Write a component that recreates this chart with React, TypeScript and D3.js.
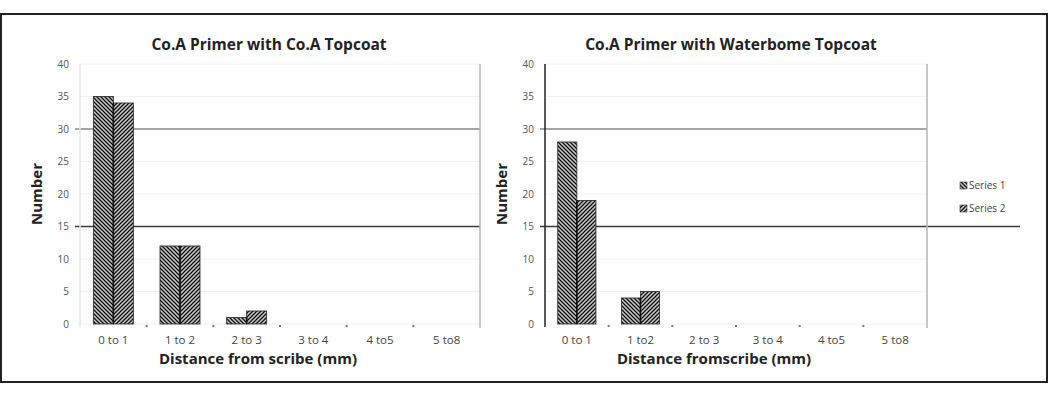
import * as d3 from "d3";

const categories = ["0 to 1", "1 to 2", "2 to 3", "3 to 4", "4 to5", "5 to8"];
const rightCategories = ["0 to 1", "1 to2", "2 to 3", "3 to 4", "4 to5", "5 to8"];
const leftSeries1 = [35, 12, 1, 0, 0, 0];
const leftSeries2 = [34, 12, 2, 0, 0, 0];
const rightSeries1 = [28, 4, 0, 0, 0, 0];
const rightSeries2 = [19, 5, 0, 0, 0, 0];
const yTicks = [0, 5, 10, 15, 20, 25, 30, 35, 40];
const legendLabels = ["Series 1", "Series 2"];

const font = "'Open Sans', Lato, sans-serif";

type PanelProps = {
  title: string;
  xTitle: string;
  labels: string[];
  s1: number[];
  s2: number[];
  x0: number;
  x1: number;
  axisColor: string;
  line15End: number;
  titleShift: number;
};

const Panel = ({ title, xTitle, labels, s1, s2, x0, x1, axisColor, line15End, titleShift }: PanelProps) => {
  const top = 64;
  const bottom = 324;
  const y = d3.scaleLinear().domain([0, 40]).range([bottom, top]);
  const x = d3
    .scaleBand<string>()
    .domain(labels)
    .range([x0, x1])
    .paddingInner(0.4)
    .paddingOuter(0.2);
  const bw = x.bandwidth() / 2;
  const cx = (x0 + x1) / 2;

  return (
    <g>
      <text x={cx + titleShift} y={50} textAnchor="middle" fontFamily={font} fontWeight="bold" fontSize={15.5} fill="#222">
        {title}
      </text>
      {/* faint grid */}
      {yTicks.map((t) => (
        <line key={"g" + t} x1={x0} x2={x1} y1={y(t)} y2={y(t)} stroke="#f2f2f2" strokeWidth={1} />
      ))}
      <line x1={x0 - 5} x2={x1} y1={y(30)} y2={y(30)} stroke="#8a8a8a" strokeWidth={1.6} />
      <line x1={x0 - 5} x2={line15End} y1={y(15)} y2={y(15)} stroke="#3a3a3a" strokeWidth={1.6} />
      {/* axes */}
      <line x1={x0} x2={x0} y1={top} y2={bottom + 3} stroke={axisColor} strokeWidth={1.5} />
      <line x1={x1} x2={x1} y1={top} y2={bottom + 4} stroke="#b5b5b5" strokeWidth={1.5} />
      {yTicks.map((t) => (
        <text key={"t" + t} x={x0 - 11} y={y(t) + 3.5} textAnchor="end" fontFamily={font} fontSize={10} fill="#555">
          {t}
        </text>
      ))}
      {labels.map((l, i) => (
        <g key={l}>
          {i > 0 && (
            <rect x={(x(l) ?? 0) - x.step() * 0.2 - 1} y={bottom + 1} width={2} height={2} fill="#777" />
          )}
          <text
            x={(x(l) ?? 0) + x.bandwidth() / 2}
            y={bottom + 20}
            textAnchor="middle"
            fontFamily={font}
            fontSize={11.5}
            fill="#444"
          >
            {l}
          </text>
        </g>
      ))}
      {s1.map((v, i) =>
        v > 0 ? (
          <rect
            key={"a" + i}
            x={x(labels[i]) ?? 0}
            y={y(v)}
            width={bw}
            height={bottom - y(v)}
            fill="url(#hatch1)"
            stroke="#222"
            strokeWidth={0.8}
          />
        ) : null
      )}
      {s2.map((v, i) =>
        v > 0 ? (
          <rect
            key={"b" + i}
            x={(x(labels[i]) ?? 0) + bw}
            y={y(v)}
            width={bw}
            height={bottom - y(v)}
            fill="url(#hatch2)"
            stroke="#222"
            strokeWidth={0.8}
          />
        ) : null
      )}
      {s1.map((v, i) =>
        v > 0 && s2[i] > 0 ? (
          <line
            key={"m" + i}
            x1={(x(labels[i]) ?? 0) + bw}
            x2={(x(labels[i]) ?? 0) + bw}
            y1={y(Math.min(v, s2[i]))}
            y2={bottom}
            stroke="#111"
            strokeWidth={1.6}
          />
        ) : null
      )}
      <text x={cx - 22} y={364} textAnchor="middle" fontFamily={font} fontWeight="bold" fontSize={15} fill="#222">
        {xTitle}
      </text>
      <text
        transform={`translate(${x0 - 38},${(top + bottom) / 2}) rotate(-90)`}
        textAnchor="middle"
        fontFamily={font}
        fontWeight="bold"
        fontSize={15}
        fill="#222"
      >
        Number
      </text>
    </g>
  );
};

const App = () => {
  return (
    <svg width={1050} height={396} style={{ position: "absolute", left: 0, top: 0, background: "#fff" }}>
      <defs>
        <pattern id="hatch1" patternUnits="userSpaceOnUse" width={4} height={4}>
          <rect width={4} height={4} fill="#c8c8c8" />
          <path d="M-1,-1 L5,5 M-1,3 L1,5 M3,-1 L5,1" stroke="#111" strokeWidth={1.3} />
        </pattern>
        <pattern id="hatch2" patternUnits="userSpaceOnUse" width={4} height={4}>
          <rect width={4} height={4} fill="#c8c8c8" />
          <path d="M-1,5 L5,-1 M-1,1 L1,-1 M3,5 L5,3" stroke="#111" strokeWidth={1.3} />
        </pattern>
      </defs>
      <rect x={1} y={14} width={1046} height={368} fill="#fff" stroke="#222" strokeWidth={2} />
      <Panel
        title="Co.A Primer with Co.A Topcoat"
        xTitle="Distance from scribe (mm)"
        labels={categories}
        s1={leftSeries1}
        s2={leftSeries2}
        x0={80}
        x1={480}
        axisColor="#e6e6e6"
        line15End={480}
        titleShift={-11}
      />
      <Panel
        title="Co.A Primer with Waterbome Topcoat"
        xTitle="Distance fromscribe (mm)"
        labels={rightCategories}
        s1={rightSeries1}
        s2={rightSeries2}
        x0={545}
        x1={927}
        axisColor="#222"
        line15End={1020}
        titleShift={-5}
      />
      {legendLabels.map((l, i) => (
        <g key={l} transform={`translate(960,${189 + i * 23})`}>
          <rect x={0} y={-7} width={7} height={7} fill={i === 0 ? "url(#hatch1)" : "url(#hatch2)"} stroke="#333" strokeWidth={0.6} />
          <text x={9} y={0} fontFamily={font} fontSize={10} fill="#444">
            {l}
          </text>
        </g>
      ))}
    </svg>
  );
};

export default App;
